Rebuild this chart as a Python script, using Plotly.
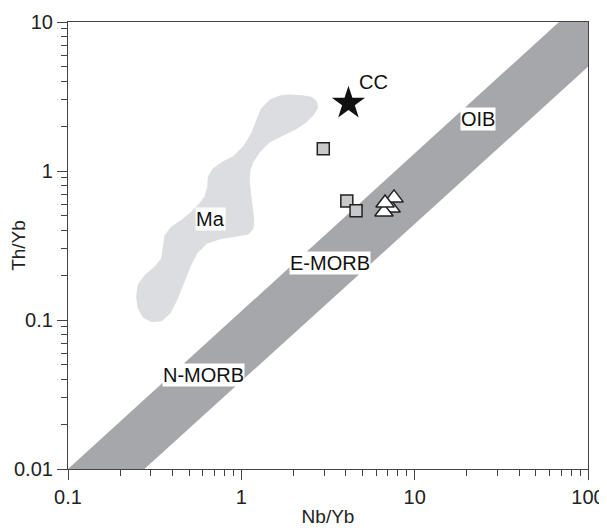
import math
import plotly.graph_objects as go

# MORB-OIB array boundaries (Nb/Yb, Th/Yb)
band_upper_x = [0.1, 68.0, 100.0]
band_upper_y = [0.01, 10.0, 10.0]
band_lower_x = [100.0, 0.276]
band_lower_y = [5.0, 0.01]

# Ma field outline (Nb/Yb, Th/Yb)
ma_x = [1.868, 2.23, 2.55, 2.72, 2.75, 2.60, 2.38, 2.09, 1.75, 1.46, 1.28, 1.17, 1.12,
        1.11, 1.13, 1.16, 1.18, 1.17, 1.10, 0.941, 0.754, 0.631, 0.553, 0.506, 0.463,
        0.424, 0.388, 0.347, 0.304, 0.272, 0.254, 0.249, 0.254, 0.278, 0.318, 0.347,
        0.355, 0.363, 0.397, 0.453, 0.506, 0.565, 0.617, 0.640, 0.645, 0.689, 0.787,
        0.899, 1.027, 1.148, 1.227, 1.311, 1.464, 1.67, 1.868]
ma_y = [3.24, 3.20, 3.12, 2.92, 2.64, 2.38, 2.14, 1.93, 1.745, 1.57, 1.35, 1.155, 1.015,
        0.870, 0.708, 0.576, 0.469, 0.412, 0.378, 0.366, 0.351, 0.327, 0.280, 0.228, 0.176,
        0.136, 0.111, 0.0989, 0.0974, 0.104, 0.120, 0.143, 0.172, 0.200, 0.228, 0.259,
        0.310, 0.372, 0.423, 0.469, 0.520, 0.591, 0.672, 0.784, 0.916, 1.04, 1.155,
        1.247, 1.455, 1.79, 2.20, 2.64, 3.00, 3.19, 3.24]

# Continental crust
cc_x = [4.15]
cc_y = [2.85]

# Samples
sq_x = [2.97, 4.06, 4.59]
sq_y = [1.41, 0.63, 0.54]
tri_x = [7.31, 6.65, 7.60, 6.75]
tri_y = [0.565, 0.53, 0.66, 0.61]

x_ticks = [0.1, 1, 10, 100]
x_labels = ["0.1", "1", "10", "100"]
y_ticks = [0.01, 0.1, 1, 10]
y_labels = ["0.01", "0.1", "1", "10"]

# Field labels (text, Nb/Yb, Th/Yb)
label_text = ["CC", "OIB", "Ma", "E-MORB", "N-MORB"]
label_x = [5.75, 23.3, 0.660, 3.25, 0.603]
label_y = [3.95, 2.235, 0.480, 0.240, 0.0425]

FONT = "Liberation Sans, Arial, sans-serif"

fig = go.Figure()

fig.add_trace(go.Scatter(
    x=band_upper_x + band_lower_x, y=band_upper_y + band_lower_y,
    fill="toself", fillcolor="#a6a7aa", line=dict(width=0), mode="lines",
    hoverinfo="skip", showlegend=False))

fig.add_trace(go.Scatter(
    x=ma_x, y=ma_y, fill="toself", fillcolor="#dcdde0",
    line=dict(width=1, shape="linear", color="#dcdde0"), mode="lines",
    hoverinfo="skip", showlegend=False))

fig.add_trace(go.Scatter(
    x=cc_x, y=cc_y, mode="markers",
    marker=dict(symbol="star", size=25, color="#111111", line=dict(width=0)),
    showlegend=False))

fig.add_trace(go.Scatter(
    x=sq_x, y=sq_y, mode="markers",
    marker=dict(symbol="square", size=12, color="#c8c9cb", line=dict(width=1.5, color="#222222")),
    showlegend=False))

fig.add_trace(go.Scatter(
    x=tri_x, y=tri_y, mode="markers",
    marker=dict(symbol="triangle-up", size=16, color="white", line=dict(width=1.5, color="#222222")),
    showlegend=False))

for t, lx, ly in zip(label_text, label_x, label_y):
    fig.add_annotation(
        x=math.log10(lx), y=math.log10(ly), text=t, showarrow=False, xref="x", yref="y",
        font=dict(family=FONT, size=20, color="#111111"),
        bgcolor="white" if t != "CC" else "rgba(0,0,0,0)", borderpad=0)

axis_common = dict(
    type="log", showgrid=False, zeroline=False, showline=True, linecolor="#444444",
    linewidth=1.2, mirror=True, ticks="outside", ticklen=10, tickwidth=1.2,
    tickcolor="#444444", tickfont=dict(family=FONT, size=20, color="#222222"),
    automargin=False,
    minor=dict(ticks="outside", ticklen=6, tickwidth=1.2, tickcolor="#444444",
               dtick="D1", showgrid=False),
)

# page body has an 8px margin; figure sized so plot area lands where the reference has it
fig.update_layout(
    width=599, height=522,
    margin=dict(l=60, r=19, t=14, b=61),
    paper_bgcolor="white", plot_bgcolor="white",
    xaxis=dict(axis_common, range=[-1, 2], tickvals=x_ticks, ticktext=x_labels,
               title=dict(text="Nb/Yb", font=dict(family=FONT, size=19, color="#222222"), standoff=2)),
    yaxis=dict(axis_common, range=[-2, 1], tickvals=y_ticks, ticktext=y_labels,
               title=dict(text="Th/Yb", font=dict(family=FONT, size=19, color="#222222"), standoff=6)),
)

fig.write_html("out.html")
